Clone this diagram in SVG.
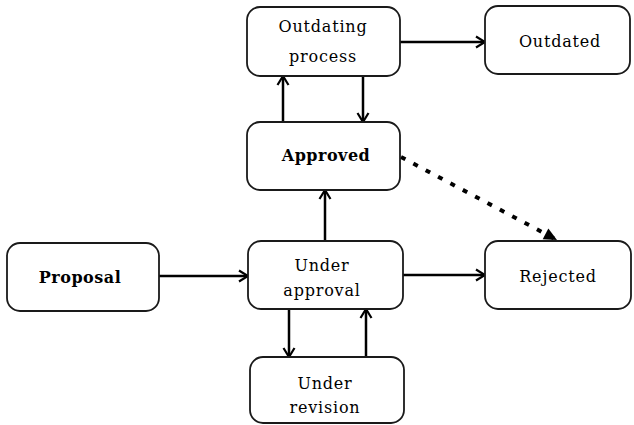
<svg xmlns="http://www.w3.org/2000/svg" width="634" height="425" viewBox="0 0 634 425">
  <style>
    .box { fill: #ffffff; stroke: #1a1a1a; stroke-width: 1.8; }
    .lbl { font-family: "DejaVu Serif", "Liberation Serif", serif; font-size: 16px; letter-spacing: 0.8px; fill: #000000; text-anchor: middle; }
    .bold { font-weight: bold; letter-spacing: 0.5px; }
    .edge { stroke: #000000; stroke-width: 2.5; fill: none; marker-end: url(#open); }
    .dash { stroke: #000000; stroke-width: 4; fill: none; stroke-dasharray: 5 9; marker-end: url(#solid); }
  </style>
  <defs>
    <marker id="open" markerUnits="userSpaceOnUse" markerWidth="14" markerHeight="14" viewBox="0 0 14 14" refX="12" refY="7" orient="auto">
      <path d="M3,1.5 L12,7 L3,12.5" fill="none" stroke="#000000" stroke-width="2.2"/>
    </marker>
    <marker id="solid" markerUnits="userSpaceOnUse" markerWidth="16" markerHeight="16" viewBox="0 0 16 16" refX="14" refY="8" orient="auto">
      <path d="M1,2 L14,8 L1,14 Z" fill="#000000"/>
    </marker>
  </defs>
  <rect width="634" height="425" fill="#ffffff"/>

  <g id="connectors">
    <line class="edge" x1="159" y1="276" x2="248" y2="276"/>
    <line class="edge" x1="403" y1="275" x2="485" y2="275"/>
    <line class="edge" x1="289" y1="309" x2="289" y2="357"/>
    <line class="edge" x1="366" y1="357" x2="366" y2="309"/>
    <line class="edge" x1="325" y1="241" x2="325" y2="190"/>
    <line class="edge" x1="283" y1="122" x2="283" y2="76"/>
    <line class="edge" x1="363" y1="76" x2="363" y2="122"/>
    <line class="edge" x1="400" y1="42" x2="485" y2="42"/>
    <line class="dash" x1="401" y1="157" x2="557" y2="240"/>
  </g>

  <g id="outdating">
    <rect class="box" x="247" y="7" width="153" height="69" rx="13"/>
    <text class="lbl" x="323" y="32">Outdating</text>
    <text class="lbl" x="323" y="62">process</text>
  </g>
  <g id="outdated">
    <rect class="box" x="485" y="6" width="145" height="68" rx="13"/>
    <text class="lbl" x="560" y="47">Outdated</text>
  </g>
  <g id="approved">
    <rect class="box" x="247" y="122" width="153" height="68" rx="13"/>
    <text class="lbl bold" x="326" y="161">Approved</text>
  </g>
  <g id="proposal">
    <rect class="box" x="7" y="243" width="152" height="68" rx="13"/>
    <text class="lbl bold" x="80" y="283">Proposal</text>
  </g>
  <g id="under-approval">
    <rect class="box" x="248" y="241" width="155" height="68" rx="13"/>
    <text class="lbl" x="322" y="271">Under</text>
    <text class="lbl" x="322" y="296">approval</text>
  </g>
  <g id="rejected">
    <rect class="box" x="485" y="241" width="146" height="68" rx="13"/>
    <text class="lbl" x="558" y="282">Rejected</text>
  </g>
  <g id="under-revision">
    <rect class="box" x="250" y="357" width="154" height="66" rx="13"/>
    <text class="lbl" x="325" y="389">Under</text>
    <text class="lbl" x="325" y="413">revision</text>
  </g>
</svg>
